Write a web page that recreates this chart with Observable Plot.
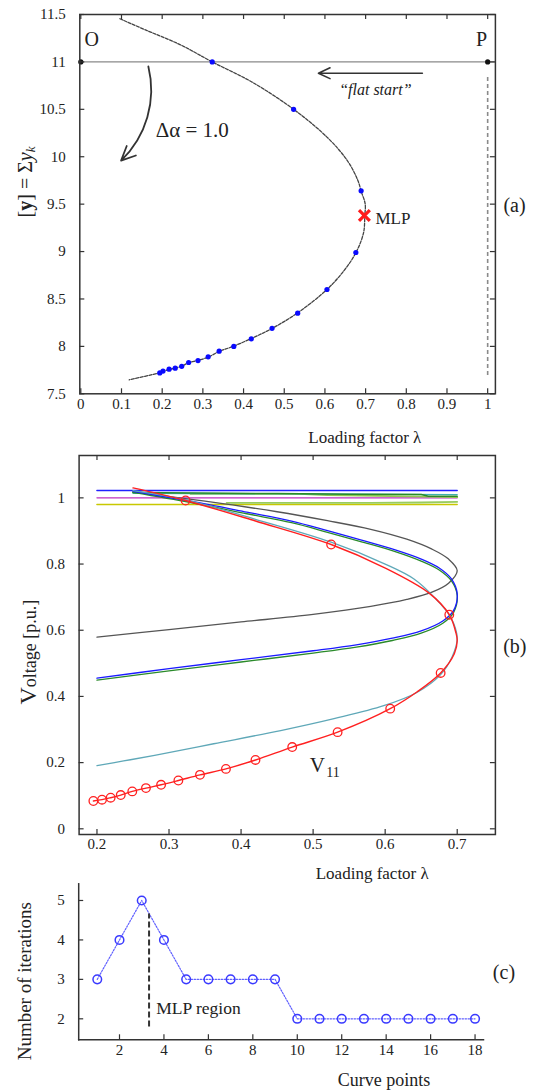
<!DOCTYPE html>
<html><head><meta charset="utf-8">
<script src="https://cdn.jsdelivr.net/npm/d3@7"></script>
<script src="https://cdn.jsdelivr.net/npm/@observablehq/plot@0.6"></script>
<style>
body{margin:0;background:#fff;}
#root{position:relative;width:533px;height:1090px;overflow:hidden;background:#fff;}
#root svg{position:absolute;left:0;overflow:visible;background:none !important;}
#root svg text{font-family:'Liberation Serif','Times New Roman',serif !important;}
</style>
</head><body><div id="root"></div>
<script>
// ---------- Panel (a) data ----------
const lambdaA = [0.323,0.523,0.689,0.676,0.605,0.533,0.470,0.419,0.376,0.340,0.313,0.288,0.265,0.248,0.232,0.217,0.202,0.194];
const sumYA   = [11.0,10.5,9.64,8.99,8.60,8.35,8.19,8.08,8.00,7.95,7.89,7.85,7.83,7.79,7.77,7.76,7.74,7.72];
const traceLambdaA = [0.096,0.163,0.245,0.323,0.421,0.523,0.605,0.655,0.681,0.689,0.699,0.698,0.695,0.676,0.647,0.605,0.533,0.470,0.419,0.376,0.340,0.313,0.288,0.265,0.248,0.232,0.217,0.202,0.194,0.119];
const traceYA      = [11.455,11.33,11.18,11.0,10.787,10.5,10.207,9.96,9.75,9.637,9.50,9.38,9.20,8.987,8.80,8.60,8.354,8.189,8.083,8.003,7.946,7.887,7.852,7.827,7.792,7.771,7.757,7.736,7.722,7.648];
const mlpLambda = 0.697, mlpY = 9.38;
const xTicksA = [0,0.1,0.2,0.3,0.4,0.5,0.6,0.7,0.8,0.9,1];
const xLabelsA = ["0","0.1","0.2","0.3","0.4","0.5","0.6","0.7","0.8","0.9","1"];
const yTicksA = [7.5,8,8.5,9,9.5,10,10.5,11,11.5];
const yLabelsA = ["7.5","8","8.5","9","9.5","10","10.5","11","11.5"];

// ---------- Panel (b) data ----------
const v11PtLambda = [0.323,0.525,0.689,0.677,0.607,0.534,0.471,0.420,0.379,0.343,0.313,0.289,0.268,0.249,0.233,0.219,0.207,0.195];
const v11PtVolt   = [0.992,0.859,0.647,0.471,0.363,0.292,0.247,0.208,0.181,0.163,0.146,0.133,0.123,0.113,0.102,0.094,0.088,0.084];
const redLambda = [0.250,0.323,0.420,0.525,0.598,0.661,0.689,0.698,0.700,0.696,0.677,0.645,0.607,0.534,0.471,0.420,0.379,0.343,0.313,0.289,0.268,0.249,0.233,0.219,0.207,0.195];
const redVolt   = [1.030,0.992,0.930,0.859,0.790,0.712,0.647,0.594,0.569,0.529,0.471,0.415,0.363,0.292,0.247,0.208,0.181,0.163,0.146,0.133,0.123,0.113,0.102,0.094,0.088,0.084];
const blackLambda = [0.250,0.350,0.450,0.520,0.580,0.630,0.665,0.688,0.700,0.688,0.665,0.630,0.580,0.500,0.400,0.300,0.200];
const blackVolt   = [1.018,0.990,0.958,0.931,0.905,0.875,0.845,0.815,0.780,0.742,0.715,0.693,0.672,0.648,0.625,0.602,0.579];
const blueLambda = [0.250,0.330,0.408,0.470,0.520,0.566,0.615,0.650,0.675,0.692,0.700,0.695,0.680,0.650,0.610,0.560,0.500,0.400,0.300,0.200];
const blueVolt   = [1.020,0.990,0.957,0.930,0.901,0.873,0.842,0.815,0.788,0.755,0.710,0.660,0.628,0.598,0.576,0.556,0.538,0.511,0.484,0.455];
const greenLambda = [0.250,0.330,0.408,0.470,0.520,0.566,0.615,0.650,0.675,0.692,0.700,0.695,0.680,0.650,0.610,0.560,0.500,0.400,0.300,0.200];
const greenVolt   = [1.017,0.986,0.952,0.925,0.896,0.868,0.837,0.809,0.782,0.749,0.705,0.654,0.621,0.591,0.569,0.549,0.531,0.504,0.477,0.449];
const tealLambda = [0.250,0.323,0.420,0.525,0.600,0.640,0.668,0.691,0.700,0.693,0.677,0.644,0.598,0.529,0.455,0.362,0.280,0.237,0.200];
const tealVolt   = [1.022,0.994,0.935,0.866,0.800,0.755,0.700,0.639,0.575,0.520,0.466,0.412,0.372,0.333,0.297,0.257,0.222,0.205,0.191];
const flatBlueLambda = [0.2,0.7], flatBlueVolt = [1.022,1.022];
const flatMagentaLambda = [0.2,0.7], flatMagentaVolt = [1.0,1.0];
const flatYellowLambda = [0.2,0.7], flatYellowVolt = [0.98,0.98];
const flatGreenLambda = [0.25,0.45,0.55,0.65,0.66,0.70], flatGreenVolt = [1.016,1.013,1.011,1.010,1.005,1.005];
const flatLtGreenLambda = [0.33,0.48,0.52,0.70], flatLtGreenVolt = [1.012,1.012,1.008,1.002];
const flatLtGreen2Lambda = [0.38,0.58,0.65,0.70], flatLtGreen2Volt = [0.985,0.985,0.986,0.988];
const flatTealLambda = [0.25,0.70], flatTealVolt = [1.014,1.010];
const xTicksB = [0.2,0.3,0.4,0.5,0.6,0.7];
const xLabelsB = ["0.2","0.3","0.4","0.5","0.6","0.7"];
const yTicksB = [0,0.2,0.4,0.6,0.8,1];
const yLabelsB = ["0","0.2","0.4","0.6","0.8","1"];

// ---------- Panel (c) data ----------
const curvePoints = [1,2,3,4,5,6,7,8,9,10,11,12,13,14,15,16,17,18];
const iterations  = [3,4,5,4,3,3,3,3,3,2,2,2,2,2,2,2,2,2];
const xTicksC = [2,4,6,8,10,12,14,16,18];
const xLabelsC = ["2","4","6","8","10","12","14","16","18"];
const yTicksC = [2,3,4,5];
const yLabelsC = ["2","3","4","5"];

// ---------- helpers ----------
const FONT = "'Liberation Serif','Times New Roman',serif";
const INK = "#222", FRAME = "#333";
const zip = (xs, ys) => xs.map((x, i) => ({x, y: ys[i]}));
const fmt = (ticks, labels) => { const m = new Map(ticks.map((t, i) => [t, labels[i]])); return d => m.get(d); };
function inwardTicks(xt, yt, pw, ph, sides = ["b","t","l","r"]) {
  const o = {stroke: FRAME, strokeWidth: 1.2};
  const m = [];
  if (sides.includes("b")) m.push(Plot.tickX(xt, {x: d => d, insetTop: ph - 5, ...o}));
  if (sides.includes("t")) m.push(Plot.tickX(xt, {x: d => d, insetBottom: ph - 5, ...o}));
  if (sides.includes("l")) m.push(Plot.tickY(yt, {y: d => d, insetRight: pw - 5, ...o}));
  if (sides.includes("r")) m.push(Plot.tickY(yt, {y: d => d, insetLeft: pw - 5, ...o}));
  return m;
}
function rich(svg, placeholder, parts) {
  d3.select(svg).selectAll("text").filter(function () { return this.textContent === placeholder; }).each(function () {
    const t = d3.select(this); t.text(null);
    for (const p of parts) {
      const s = t.append("tspan").text(p.t);
      for (const [k, v] of Object.entries(p.a || {})) s.attr(k, v);
    }
  });
}
const T = {textAnchor: "middle", lineAnchor: "middle"};
const root = document.getElementById("root");

// ---------- Panel (a) ----------
{
  const mL = 79.3, mR = 38.1, mT = 14, mB = 56.7, H = 450;
  const pw = 533 - mL - mR, ph = H - mT - mB;
  const svg = Plot.plot({
    width: 533, height: H, marginLeft: mL, marginRight: mR, marginTop: mT, marginBottom: mB,
    style: {fontFamily: FONT, fontSize: "15px", color: INK, overflow: "visible"},
    x: {domain: [-0.0025, 1.019]},
    y: {domain: [7.5, 11.5]},
    marks: [
      Plot.ruleY([11], {x1: 0, x2: 1.019, stroke: "#8a8a8a", strokeWidth: 1.2}),
      Plot.ruleX([1], {y1: 7.694, y2: 10.86, stroke: "#8a8a8a", strokeWidth: 1.6, strokeDasharray: "4,3"}),
      Plot.line(zip(traceLambdaA, traceYA), {x: "x", y: "y", stroke: "#444", strokeWidth: 1.3, strokeDasharray: "3,1.5", curve: "catmull-rom"}),
      Plot.dot(zip(lambdaA, sumYA), {x: "x", y: "y", r: 2.6, fill: "#0a0aff"}),
      Plot.dot([{x: 0, y: 11}, {x: 1, y: 11}], {x: "x", y: "y", r: 2.6, fill: "#111"}),
      Plot.dot([{x: mlpLambda, y: mlpY}], {x: "x", y: "y", symbol: "times", r: 5, stroke: "#ff1a1a", strokeWidth: 3.2}),
      Plot.arrow([{x1: 0.8395, y1: 10.881, x2: 0.584, y2: 10.881}], {x1: "x1", y1: "y1", x2: "x2", y2: "y2", stroke: "#333", strokeWidth: 1.6, headLength: 12, headAngle: 50}),
      Plot.arrow([{x1: 0.166, y1: 10.952, x2: 0.099, y2: 9.96}], {x1: "x1", y1: "y1", x2: "x2", y2: "y2", stroke: "#333", strokeWidth: 1.8, bend: 30, headLength: 13, headAngle: 50}),
      Plot.text(["O"], {x: 0.0265, y: 11.236, fontSize: 20, ...T}),
      Plot.text(["P"], {x: 0.985, y: 11.236, fontSize: 20, ...T}),
      Plot.text(["Δα = 1.0"], {x: 0.184, y: 10.277, textAnchor: "start", fontSize: 21}),
      Plot.text(["“flat start”"], {x: 0.724, y: 10.706, fontSize: 16, fontStyle: "italic", ...T}),
      Plot.text(["MLP"], {x: 0.724, y: 9.35, textAnchor: "start", fontSize: 17}),
      Plot.text(["(a)"], {x: 1.066, y: 9.486, fontSize: 20, ...T}),
      Plot.text(["Loading factor λ"], {x: 0.698, y: 7.5, dy: 43.7, fontSize: 17, ...T}),
      Plot.text(["YLABEL_A"], {x: -0.1347, y: 9.36, rotate: -90, fontSize: 20, textAnchor: "start", lineAnchor: "middle"}),
      Plot.frame({stroke: FRAME, strokeWidth: 1.5}),
      ...inwardTicks(xTicksA, yTicksA, pw, ph),
      Plot.axisX(xTicksA, {tickSize: 0, tickPadding: 5, tickFormat: fmt(xTicksA, xLabelsA), label: null, fontSize: 15}),
      Plot.axisY(yTicksA, {tickSize: 0, tickPadding: 14, tickFormat: fmt(yTicksA, yLabelsA), label: null, fontSize: 15})
    ]
  });
  rich(svg, "YLABEL_A", [{t: "["}, {t: "y", a: {"font-weight": "bold"}}, {t: "] = Σ"}, {t: "y", a: {"font-style": "italic"}}, {t: "k", a: {"font-style": "italic", "font-size": "13px", "baseline-shift": "-25%"}}]);
  svg.style.top = "0px";
  root.appendChild(svg);
}

// ---------- Panel (b) ----------
{
  const mL = 78.6, mR = 38.1, mT = 5, mB = 46, H = 430;
  const pw = 533 - mL - mR, ph = H - mT - mB;
  const lineOpts = (stroke, w = 1.3) => ({x: "x", y: "y", stroke, strokeWidth: w, curve: "catmull-rom"});
  const svg = Plot.plot({
    width: 533, height: H, marginLeft: mL, marginRight: mR, marginTop: mT, marginBottom: mB,
    style: {fontFamily: FONT, fontSize: "15px", color: INK, overflow: "visible"},
    x: {domain: [0.1752, 0.753]},
    y: {domain: [-0.0172, 1.128]},
    marks: [
      Plot.line(zip(flatYellowLambda, flatYellowVolt), {x: "x", y: "y", stroke: "#c8c800", strokeWidth: 1.5}),
      Plot.line(zip(flatLtGreen2Lambda, flatLtGreen2Volt), {x: "x", y: "y", stroke: "#98cc60", strokeWidth: 1.8}),
      Plot.line(zip(flatMagentaLambda, flatMagentaVolt), {x: "x", y: "y", stroke: "#c030c0", strokeWidth: 1.3}),
      Plot.line(zip(flatLtGreenLambda, flatLtGreenVolt), {x: "x", y: "y", stroke: "#90c850", strokeWidth: 1.8}),
      Plot.line(zip(flatTealLambda, flatTealVolt), {x: "x", y: "y", stroke: "#40b0b0", strokeWidth: 1.3}),
      Plot.line(zip(flatGreenLambda, flatGreenVolt), {x: "x", y: "y", stroke: "#2a8a2a", strokeWidth: 1.5}),
      Plot.line(zip(flatBlueLambda, flatBlueVolt), {x: "x", y: "y", stroke: "#2020ff", strokeWidth: 1.5}),
      Plot.line(zip(blackLambda, blackVolt), lineOpts("#555")),
      Plot.line(zip(greenLambda, greenVolt), lineOpts("#2a8a2a")),
      Plot.line(zip(blueLambda, blueVolt), lineOpts("#1a1aff")),
      Plot.line(zip(tealLambda, tealVolt), lineOpts("#5fa8b8")),
      Plot.line(zip(redLambda, redVolt), lineOpts("#ff2020", 1.4)),
      Plot.dot(zip(v11PtLambda, v11PtVolt), {x: "x", y: "y", r: 4.3, stroke: "#ff2020", strokeWidth: 1.3, fill: "none"}),
      Plot.text(["V"], {x: 0.506, y: 0.191, fontSize: 21, ...T}),
      Plot.text(["11"], {x: 0.5275, y: 0.170, fontSize: 14, ...T}),
      Plot.text(["(b)"], {x: 0.780, y: 0.551, fontSize: 20, ...T}),
      Plot.text(["YLABEL_B"], {frameAnchor: "left", dx: -48.6, dy: 7.2, rotate: -90, fontSize: 18, ...T}),
      Plot.frame({stroke: FRAME, strokeWidth: 1.5}),
      ...inwardTicks(xTicksB, yTicksB, pw, ph),
      Plot.axisX(xTicksB, {tickSize: 0, tickPadding: 4, tickFormat: fmt(xTicksB, xLabelsB), label: null, fontSize: 15}),
      Plot.axisY(yTicksB, {tickSize: 0, tickPadding: 14, tickFormat: fmt(yTicksB, yLabelsB), label: null, fontSize: 15}),
      Plot.text(["Loading factor λ"], {frameAnchor: "bottom", dx: 85, dy: 39.3, fontSize: 17, ...T})
    ]
  });
  rich(svg, "YLABEL_B", [{t: "V", a: {"font-size": "24px"}}, {t: "oltage [p.u.]"}]);
  svg.style.top = "450px";
  root.appendChild(svg);
}

// ---------- Panel (c) ----------
{
  const mL = 78.2, mR = 50, mT = 3.3, mB = 50.7, H = 210;
  const pw = 533 - mL - mR, ph = H - mT - mB;
  const svg = Plot.plot({
    width: 533, height: H, marginLeft: mL, marginRight: mR, marginTop: mT, marginBottom: mB,
    style: {fontFamily: FONT, fontSize: "15px", color: INK, overflow: "visible"},
    x: {domain: [0.164, 18.38]},
    y: {domain: [1.468, 5.423]},
    marks: [
      Plot.line(zip(curvePoints, iterations), {x: "x", y: "y", stroke: "#6060ff", strokeWidth: 1.2, strokeDasharray: "1.5,1.5"}),
      Plot.dot(zip(curvePoints, iterations), {x: "x", y: "y", r: 4.3, stroke: "#3a3aff", strokeWidth: 1.5, fill: "none"}),
      Plot.ruleX([3.33], {y1: 1.79, y2: 4.66, stroke: "#333", strokeWidth: 2, strokeDasharray: "6,3"}),
      Plot.text(["MLP region"], {x: 3.656, y: 2.26, textAnchor: "start", fontSize: 17.5}),
      Plot.text(["(c)"], {x: 19.30, y: 3.18, fontSize: 20, ...T}),
      Plot.text(["Number of iterations"], {frameAnchor: "left", dx: -54.2, dy: 19.4, rotate: -90, fontSize: 19, ...T}),
      Plot.text(["Curve points"], {frameAnchor: "bottom", dx: 103, dy: 40.7, fontSize: 18, ...T}),
      Plot.frame({anchor: "left", stroke: FRAME, strokeWidth: 1.5}),
      Plot.frame({anchor: "bottom", stroke: FRAME, strokeWidth: 1.5}),
      ...inwardTicks(xTicksC, yTicksC, pw, ph, ["b", "l"]),
      Plot.axisX(xTicksC, {tickSize: 0, tickPadding: 5, tickFormat: fmt(xTicksC, xLabelsC), label: null, fontSize: 15}),
      Plot.axisY(yTicksC, {tickSize: 0, tickPadding: 14, tickFormat: fmt(yTicksC, yLabelsC), label: null, fontSize: 15})
    ]
  });
  svg.style.top = "880px";
  root.appendChild(svg);
}
</script>
</body></html>
